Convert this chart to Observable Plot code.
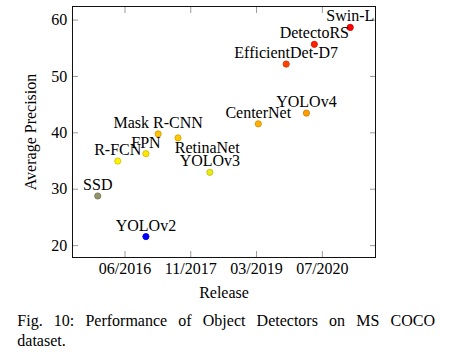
<!DOCTYPE html>
<html><head><meta charset="utf-8">
<script src="https://cdn.jsdelivr.net/npm/d3@7"></script>
<script src="https://cdn.jsdelivr.net/npm/@observablehq/plot@0.6"></script>
<style>
body{margin:0;background:#fff;}
#wrap{position:relative;width:451px;height:358px;font-family:"Liberation Serif","Times New Roman",serif;}
.cap{position:absolute;left:17.3px;width:417.7px;font-size:16px;line-height:20px;color:#000;white-space:nowrap;}
#cap1{top:311.3px;text-align:justify;text-align-last:justify;white-space:normal;}
#cap2{top:331.3px;}
</style></head><body>
<div id="wrap"><div id="chart"></div>
<div class="cap" id="cap1">Fig. 10: Performance of Object Detectors on MS COCO</div>
<div class="cap" id="cap2">dataset.</div></div>
<script>
const models = ["SSD","R-FCN","YOLOv2","FPN","Mask R-CNN","RetinaNet","YOLOv3","CenterNet","EfficientDet-D7","YOLOv4","DetectoRS","Swin-L"];
const releases = ["2015-11-25","2016-04-25","2016-11-25","2016-11-25","2017-02-26","2017-07-27","2018-03-26","2019-03-29","2019-10-27","2020-03-29","2020-05-28","2021-02-25"];
const precision = [28.8, 35.0, 21.6, 36.3, 39.8, 39.1, 33.0, 41.6, 52.2, 43.5, 55.7, 58.7];
const yTicks = [20, 30, 40, 50, 60];
const xTicks = ["2016-06-19","2017-11-01","2019-03-16","2020-07-28"];
const xTickLabels = ["06/2016","11/2017","03/2019","07/2020"];
const colormap = ["#0000ff","#ffff00","#ff8000","#ff0000"];
const belowRight = new Set(["RetinaNet"]);

const parse = d3.utcParse("%Y-%m-%d");
const data = models.map((m,i)=>({model:m, date:parse(releases[i]), ap:precision[i]}));
const [x0,x1] = d3.extent(data, d=>d.date);
const xpad = (x1-x0)*0.1;
const [y0,y1] = d3.extent(precision);
const yr = y1-y0, ypad = yr*0.1;
const xt = xTicks.map(parse);
const fmtX = d => xTickLabels[xt.findIndex(t=>+t===+d)];
const tickColor = "#9a9a9a";

const chart = Plot.plot({
  width:451, height:305,
  marginLeft:72, marginRight:76, marginTop:6, marginBottom:48,
  style:{fontFamily:"Liberation Serif", fontSize:"16px", color:"#000", background:"#fff", overflow:"visible"},
  x:{type:"utc", domain:[new Date(+x0-xpad), new Date(+x1+xpad)]},
  y:{domain:[y0-ypad, y1+ypad]},
  color:{type:"linear", domain:[y0, y0+yr/3, y0+2*yr/3, y1], range:colormap, interpolate:"rgb"},
  marks:[
    Plot.axisY({ticks:yTicks, anchor:"left", tickSize:6, dx:6, tickFormat:()=>"", stroke:tickColor, label:null}),
    Plot.axisY({ticks:yTicks, anchor:"right", tickSize:6, dx:-6, tickFormat:()=>"", stroke:tickColor, label:null}),
    Plot.axisX({ticks:xt, anchor:"bottom", tickSize:6, dy:-6, tickFormat:()=>"", stroke:tickColor, label:null}),
    Plot.axisX({ticks:xt, anchor:"top", tickSize:6, dy:6, tickFormat:()=>"", stroke:tickColor, label:null}),
    Plot.axisY({ticks:yTicks, anchor:"left", tickSize:0, tickPadding:5.3, label:null, fontSize:16}),
    Plot.axisX({ticks:xt, anchor:"bottom", tickSize:0, tickPadding:5, tickFormat:fmtX, label:null, fontSize:16}),
    Plot.frame({stroke:"#111", strokeWidth:1}),
    Plot.text(["Average Precision"], {frameAnchor:"left", dx:-42, rotate:-90, textAnchor:"middle", lineAnchor:"middle", fontSize:16}),
    Plot.text(["Release"], {frameAnchor:"bottom", dy:40.7, lineAnchor:"bottom", fontSize:16}),
    Plot.dot(data, {x:d=>d.date, y:d=>d.ap, r:3.1, fill:d=>d.ap, stroke:d=>d.ap, strokeWidth:0.8}),
    Plot.dot(data, {x:d=>d.date, y:d=>d.ap, r:3.1, fill:"none", stroke:"#000", strokeOpacity:0.2, strokeWidth:0.8}),
    Plot.text(data.filter(d=>!belowRight.has(d.model)), {x:d=>d.date, y:d=>d.ap, text:d=>d.model, dy:-6, lineAnchor:"bottom", fontSize:16}),
    Plot.text(data.filter(d=>belowRight.has(d.model)), {x:d=>d.date, y:d=>d.ap, text:d=>d.model, dx:-3.3, dy:15, textAnchor:"start", lineAnchor:"bottom", fontSize:16})
  ]
});
document.getElementById("chart").appendChild(chart);
</script>
</body></html>
